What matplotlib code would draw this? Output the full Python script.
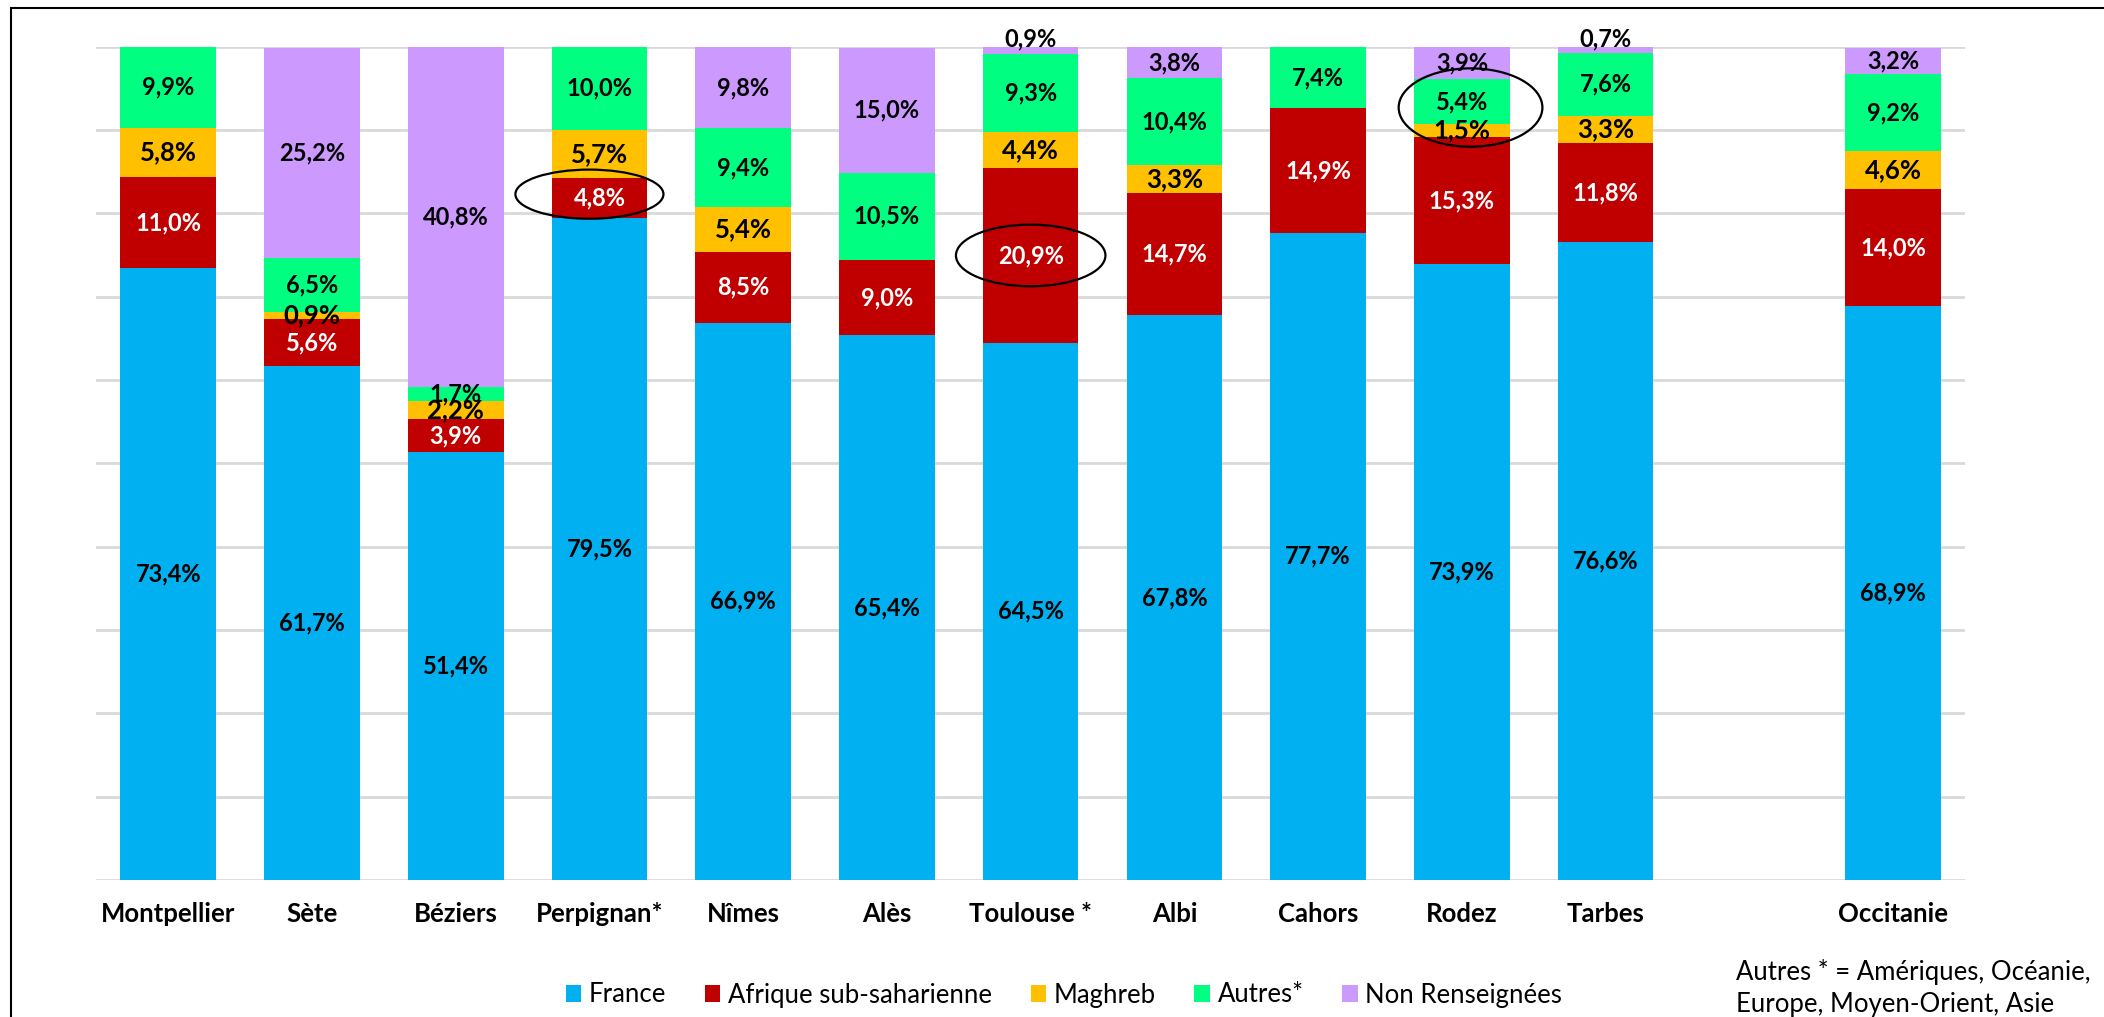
import matplotlib
matplotlib.use('Agg')
import matplotlib.pyplot as plt
from matplotlib.patches import Ellipse, Rectangle
import numpy as np

plt.rcParams['font.family'] = ['Lato', 'DejaVu Sans']

# ── données ──────────────────────────────────────────
villes = ['Montpellier', 'Sète', 'Béziers', 'Perpignan*', 'Nîmes', 'Alès',
          'Toulouse *', 'Albi', 'Cahors', 'Rodez', 'Tarbes', 'Occitanie']
positions = [0, 1, 2, 3, 4, 5, 6, 7, 8, 9, 10, 12]

series = ['France', 'Afrique sub-saharienne', 'Maghreb', 'Autres*', 'Non Renseignées']
france   = [73.4, 61.7, 51.4, 79.5, 66.9, 65.4, 64.5, 67.8, 77.7, 73.9, 76.6, 68.9]
afrique  = [11.0,  5.6,  3.9,  4.8,  8.5,  9.0, 20.9, 14.7, 14.9, 15.3, 11.8, 14.0]
maghreb  = [ 5.8,  0.9,  2.2,  5.7,  5.4,  0.0,  4.4,  3.3,  0.0,  1.5,  3.3,  4.6]
autres   = [ 9.9,  6.5,  1.7, 10.0,  9.4, 10.5,  9.3, 10.4,  7.4,  5.4,  7.6,  9.2]
non_rens = [ 0.0, 25.2, 40.8,  0.0,  9.8, 15.0,  0.9,  3.8,  0.0,  3.9,  0.7,  3.2]

colors = ['#00B0F0', '#C00000', '#FFC000', '#00FF80', '#CC99FF']
label_colors = ['black', 'white', 'black', 'black', 'black']

note = 'Autres * = Amériques, Océanie,\nEurope, Moyen-Orient, Asie'

# ── figure ───────────────────────────────────────────
W, H = 2104, 1017
fig = plt.figure(figsize=(W / 100, H / 100), dpi=100)
ax = fig.add_axes([96.4 / W, (H - 880) / H, (1965 - 96.4) / W, 833.3 / H])

data = [france, afrique, maghreb, autres, non_rens]
bottom = np.zeros(len(villes))
for vals, name, c, lc in zip(data, series, colors, label_colors):
    vals = np.array(vals)
    ax.bar(positions, vals, bottom=bottom, width=0.665, color=c, label=name,
           zorder=3, lw=0)
    for x, b, v in zip(positions, bottom, vals):
        if v <= 0:
            continue
        y = b + v / 2
        if name == 'Non Renseignées' and v < 1.2:
            y = 100.9
        big = name == 'Maghreb'
        ax.text(x, y, f'{v:.1f}%'.replace('.', ','), ha='center', va='center',
                color=lc, fontsize=18.5 if big else 17, fontweight='bold',
                zorder=5, clip_on=False)
    bottom += vals

# cercles de mise en évidence
cum = np.cumsum(np.array(data), axis=0)
def ellipse(i, yc, w, h, dx=0.0):
    ax.add_patch(Ellipse((positions[i] + dx, yc), w, h, fill=False,
                         ec='black', lw=1.6, zorder=6, clip_on=False))

ellipse(3, france[3] + afrique[3] / 2 + 0.4, 1.03, 5.9, dx=-0.07)
ellipse(6, france[6] + afrique[6] / 2, 1.04, 7.4)
ellipse(9, cum[2][9] + autres[9] / 2 - 0.7, 1.0, 9.4, dx=0.06)

ax.set_xlim(-0.5, 12.5)
ax.set_ylim(0, 100)
ax.set_yticks(np.arange(0, 101, 10))
ax.set_yticklabels([])
ax.grid(axis='y', color='#D9D9D9', lw=2, zorder=0)
ax.set_axisbelow(True)
ax.tick_params(length=0, pad=16)
ax.set_xticks(positions)
ax.set_xticklabels(villes, fontsize=18.5, fontweight='bold')
for s in ax.spines.values():
    s.set_visible(False)

leg = fig.legend(loc='center', bbox_to_anchor=(1064 / W, 1 - 995 / H), ncol=5,
                 frameon=False, fontsize=18.5, handlelength=0.6, handleheight=0.6,
                 handletextpad=0.3, columnspacing=1.5)

fig.text(1736 / W, 1 - 988 / H, note, ha='left', va='center', fontsize=18.5,
         linespacing=1.35)

# cadre
fig.add_artist(Rectangle((11 / W, -0.1), 1.2, 1.1 - 8 / H, transform=fig.transFigure,
                         fill=False, ec='black', lw=1.5))

fig.savefig('out.png', dpi=100)
